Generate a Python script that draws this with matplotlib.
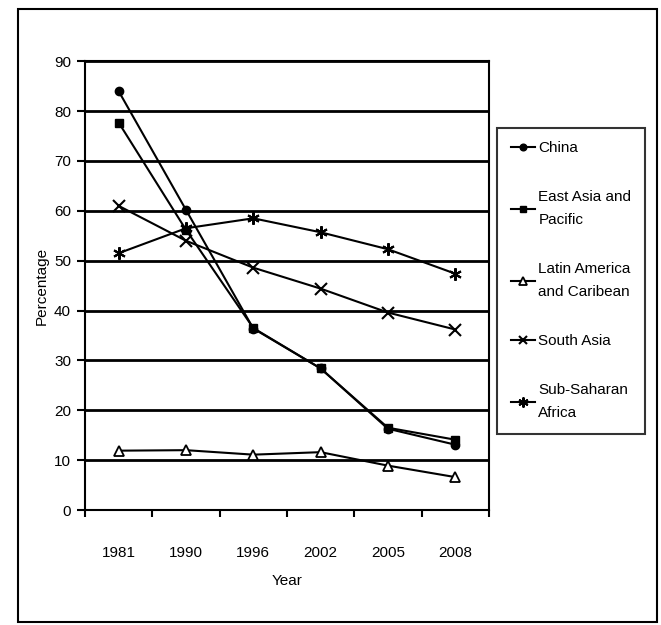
import numpy as np
import matplotlib.pyplot as plt
from matplotlib.patches import Rectangle

plt.rcParams['font.family'] = ['Liberation Sans Narrow', 'Liberation Sans', 'DejaVu Sans']

years = ['1981', '1990', '1996', '2002', '2005', '2008']
china = [84.0, 60.2, 36.4, 28.4, 16.3, 13.1]
east_asia = [77.7, 56.2, 36.5, 28.4, 16.5, 14.1]
latin_america = [11.9, 12.0, 11.1, 11.6, 8.9, 6.6]
south_asia = [61.0, 54.0, 48.6, 44.4, 39.6, 36.2]
sub_saharan = [51.5, 56.5, 58.5, 55.7, 52.3, 47.4]

x = np.arange(len(years))

fig = plt.figure(figsize=(6.61, 6.25), dpi=100)
ax = fig.add_axes([0.1286, 0.184, 0.611, 0.718])

for v in range(0, 100, 10):
    ax.axhline(v, color='black', linewidth=2, zorder=1)

ax.plot(x, china, color='black', lw=1.5, marker='o', ms=6, label='China', zorder=3)
ax.plot(x, east_asia, color='black', lw=1.5, marker='s', ms=6, label='East Asia and\nPacific', zorder=3)
ax.plot(x, latin_america, color='black', lw=1.5, marker='^', ms=7, mfc='white', mew=1.3,
        label='Latin America\nand Caribean', zorder=3)
ax.plot(x, south_asia, color='black', lw=1.5, marker='x', ms=8, mew=1.5, label='South Asia', zorder=3)
ax.plot(x, sub_saharan, color='black', lw=1.5, marker=(6, 2, 0), ms=9, mew=1.5,
        label='Sub-Saharan\nAfrica', zorder=3)

ax.set_xlim(-0.5, 5.5)
ax.set_ylim(0, 90)
ax.set_yticks(range(0, 100, 10))
ax.set_xticks(x)
ax.set_xticklabels(years)
ax.set_xticks(np.arange(-0.5, 6, 1), minor=True)
ax.tick_params(axis='x', which='major', length=0, pad=26, labelsize=11)
ax.tick_params(axis='x', which='minor', length=5, width=1.5, direction='out')
ax.tick_params(axis='y', length=6, width=1.5, labelsize=11, pad=4)
for s in ax.spines.values():
    s.set_linewidth(1.5)

ax.set_xlabel('Year', fontsize=11, labelpad=10)
ax.set_ylabel('Percentage', fontsize=11, labelpad=4)

leg = fig.legend(loc='upper left', bbox_to_anchor=(0.752, 0.796), fontsize=11,
                 frameon=True, fancybox=False, edgecolor='black', labelspacing=2.3,
                 handlelength=1.6, handletextpad=0.2, borderpad=0.9, markerscale=0.8,
                 borderaxespad=0)
leg.get_frame().set_linewidth(1.5)
for t in leg.get_texts():
    t.set_linespacing(1.8)

fig.patches.append(Rectangle((0.027, 0.005), 0.967, 0.98, transform=fig.transFigure,
                             fill=False, edgecolor='black', linewidth=1.5))

fig.savefig('out.png', dpi=100)
